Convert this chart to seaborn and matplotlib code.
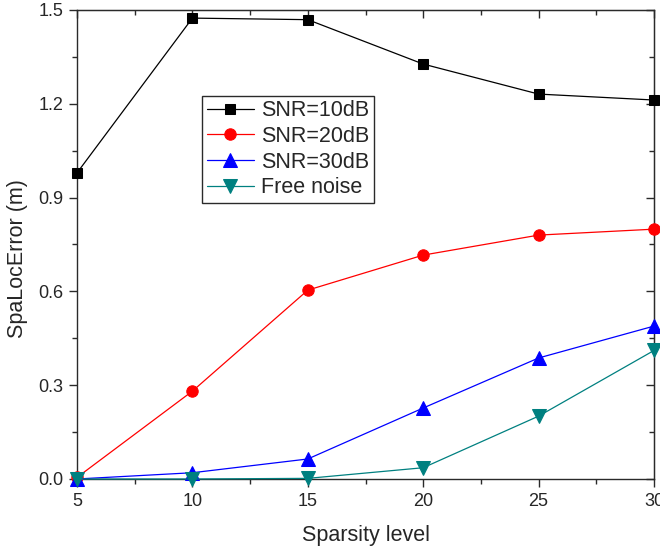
import matplotlib
matplotlib.use("Agg")
import matplotlib.pyplot as plt
import seaborn as sns
import pandas as pd
from matplotlib.ticker import MultipleLocator, FormatStrFormatter, NullFormatter

sparsity = [5, 10, 15, 20, 25, 30]
snr10 = [0.979, 1.474, 1.469, 1.327, 1.231, 1.212]
snr20 = [0.005, 0.281, 0.604, 0.716, 0.780, 0.799]
snr30 = [0.0, 0.020, 0.064, 0.227, 0.387, 0.489]
free_noise = [0.0, 0.0, 0.002, 0.036, 0.201, 0.411]
labels = ["SNR=10dB", "SNR=20dB", "SNR=30dB", "Free noise"]
colors = ["#000000", "#ff0000", "#0000ff", "#008080"]
markers = ["s", "o", "^", "v"]
msizes = [7.8, 8.2, 9.5, 9.5]

sns.set_style("ticks")
plt.rcParams['font.family'] = ['Liberation Sans', 'DejaVu Sans']

fig = plt.figure(figsize=(6.6, 5.51), dpi=100)
ax = fig.add_axes([0.1167, 0.1307, 0.8742, 0.8512])

series = [snr10, snr20, snr30, free_noise]
for vals, lab, c, m, ms in zip(series, labels, colors, markers, msizes):
    df = pd.DataFrame({"x": sparsity, "y": vals})
    sns.lineplot(data=df, x="x", y="y", ax=ax, color=c, marker=m, markersize=ms,
                 markeredgecolor=c, linewidth=0.9, label=lab, clip_on=False, zorder=3)

ax.set_xlim(5, 30)
ax.set_ylim(0, 1.5)
ax.xaxis.set_major_locator(MultipleLocator(5))
ax.xaxis.set_minor_locator(MultipleLocator(2.5))
ax.yaxis.set_major_locator(MultipleLocator(0.3))
ax.yaxis.set_minor_locator(MultipleLocator(0.15))
ax.yaxis.set_major_formatter(FormatStrFormatter('%.1f'))

spine_c = "#2a2a2a"
for s in ax.spines.values():
    s.set_visible(True)
    s.set_linewidth(1.0)
    s.set_color(spine_c)

ax.tick_params(which='both', direction='out', labelsize=13, color=spine_c, width=1.0)
ax.tick_params(which='major', length=6, pad=4)
ax.tick_params(which='minor', length=3.5)

# inward ticks on top and right, no labels
secx = ax.secondary_xaxis('top')
secx.xaxis.set_major_locator(MultipleLocator(5))
secx.xaxis.set_minor_locator(MultipleLocator(2.5))
secx.xaxis.set_major_formatter(NullFormatter())
secx.tick_params(which='both', direction='in', color=spine_c, width=1.0)
secx.tick_params(which='major', length=6)
secx.tick_params(which='minor', length=3.5)
secx.spines['top'].set_color(spine_c)

secy = ax.secondary_yaxis('right')
secy.yaxis.set_major_locator(MultipleLocator(0.3))
secy.yaxis.set_minor_locator(MultipleLocator(0.15))
secy.yaxis.set_major_formatter(NullFormatter())
secy.tick_params(which='both', direction='in', color=spine_c, width=1.0)
secy.tick_params(which='major', length=6)
secy.tick_params(which='minor', length=3.5)
secy.spines['right'].set_color(spine_c)

ax.set_xlabel("Sparsity level", fontsize=15.5, labelpad=11)
ax.set_ylabel("SpaLocError (m)", fontsize=15.5, labelpad=7)
ax.yaxis.label.set_y(0.471)

leg = ax.legend(loc='upper left', bbox_to_anchor=(0.217, 0.817), fontsize=15.5,
                frameon=True, fancybox=False, edgecolor=spine_c, framealpha=1,
                borderpad=0.2, labelspacing=0.22, handlelength=2.2, handletextpad=0.33,
                borderaxespad=0)
leg.get_frame().set_linewidth(1.0)

fig.savefig("out.png", dpi=100)
